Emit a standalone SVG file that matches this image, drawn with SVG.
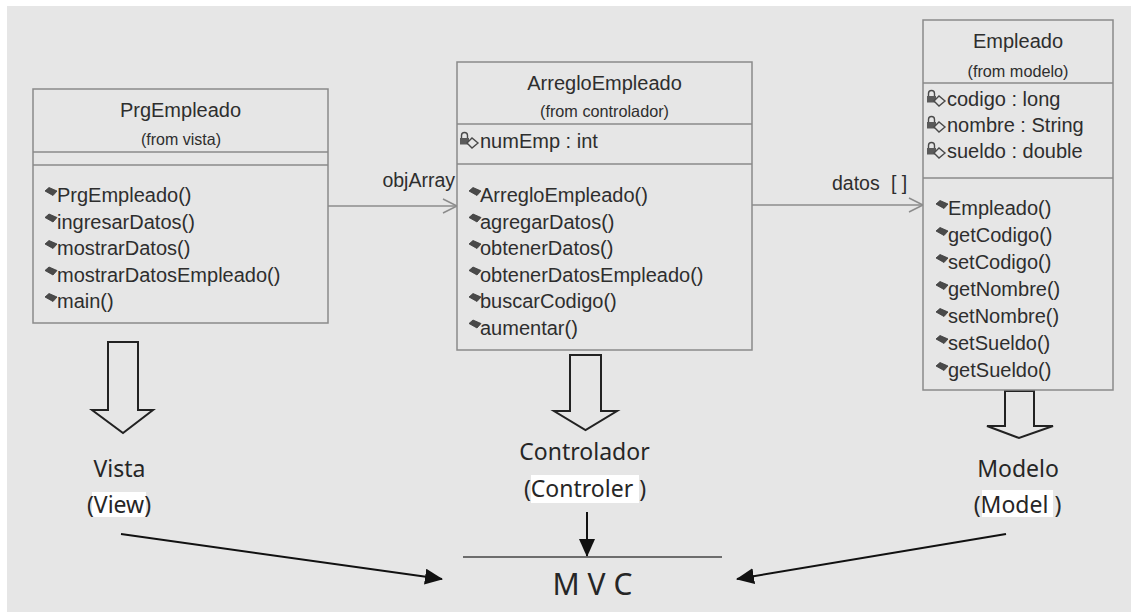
<svg xmlns="http://www.w3.org/2000/svg" width="1131" height="612" viewBox="0 0 1131 612">
  <style>
    .box { fill: #e6e6e6; stroke: #8a8a8a; stroke-width: 1.5; }
    .div { stroke: #8a8a8a; stroke-width: 1.5; }
    .name { font-family: "Liberation Sans", Arial, sans-serif; font-size: 20px; fill: #2e2e2e; text-anchor: middle; }
    .from { font-family: "Liberation Sans", Arial, sans-serif; font-size: 16.5px; fill: #2e2e2e; text-anchor: middle; }
    .mem { font-family: "Liberation Sans", Arial, sans-serif; font-size: 20px; fill: #2e2e2e; }
    .assoc { fill: none; stroke: #8c8c8c; stroke-width: 1.5; }
    .lbl { font-family: "Liberation Sans", Arial, sans-serif; font-size: 19.5px; fill: #2e2e2e; }
    .block { fill: none; stroke: #222; stroke-width: 2; stroke-linejoin: miter; }
    .layer { font-family: "Noto Sans", "Open Sans", sans-serif; font-size: 23px; fill: #262626; text-anchor: middle; }
    .hl { fill: #ffffff; }
    .flow { stroke: #111; stroke-width: 2; fill: none; }
  </style>
  <defs>
    <!-- operation marker: small dark tilted diamond -->
    <polygon id="op" points="0,3 4,-0.5 12,3 8,7.5" fill="#4a4a4a" stroke="#3a3a3a" stroke-width="0.8"/>
    <!-- private attribute marker: padlock with a diamond -->
    <g id="attr">
      <path d="M1.5,-10 v-2.5 a3,3 0 0 1 6,0 v2.5" fill="none" stroke="#4a4a4a" stroke-width="1.4"/>
      <rect x="0" y="-10" width="9" height="6.5" fill="#5a5a5a"/>
      <polygon points="7,-5 12,-10 18,-5 12,0" fill="#e6e6e6" stroke="#4a4a4a" stroke-width="1.4"/>
    </g>
    <marker id="head" markerUnits="userSpaceOnUse" markerWidth="18" markerHeight="16" viewBox="0 0 18 16" refX="17" refY="8" orient="auto">
      <path d="M0,0 L18,8 L0,16 z" fill="#111"/>
    </marker>
  </defs>

  <!-- page -->
  <rect x="0" y="0" width="1131" height="612" fill="#ffffff"/>
  <rect x="7" y="6" width="1124" height="606" fill="#e6e6e6"/>

  <!-- connectors -->
  <g id="connectors">
    <line class="assoc" x1="328" y1="206" x2="457" y2="206"/>
    <polyline class="assoc" points="443,199 457,206 443,213"/>
    <text class="lbl" x="455" y="187" text-anchor="end">objArray</text>

    <line class="assoc" x1="752" y1="205" x2="923" y2="205"/>
    <polyline class="assoc" points="909,198 923,205 909,212"/>
    <text class="lbl" x="832" y="190">datos<tspan x="891">[ ]</tspan></text>

    <path class="block" d="M108,342 H138 V410 H153 L123,433 L92,410 H108 Z"/>
    <path class="block" d="M570,355 H601 V411 H617 L585.5,430 L554,411 H570 Z"/>
    <path class="block" d="M1005,391 H1034 V426 H1053 L1019,438 L987,426 H1005 Z"/>

    <line class="flow" x1="121" y1="534" x2="442" y2="579" marker-end="url(#head)"/>
    <line class="flow" x1="1006" y1="534" x2="737" y2="579" marker-end="url(#head)"/>
    <line class="flow" x1="587" y1="512" x2="587" y2="556" marker-end="url(#head)"/>
  </g>

  <!-- class PrgEmpleado -->
  <g id="PrgEmpleado">
    <rect class="box" x="33" y="89" width="295" height="234"/>
    <text class="name" x="180.5" y="117">PrgEmpleado</text>
    <text class="from" x="181" y="145" textLength="80" lengthAdjust="spacingAndGlyphs">(from vista)</text>
    <line class="div" x1="33" y1="152" x2="328" y2="152"/>
    <line class="div" x1="33" y1="165" x2="328" y2="165"/>
    <use href="#op" x="45" y="188"/><text class="mem" x="57" y="202">PrgEmpleado()</text>
    <use href="#op" x="45" y="214.5"/><text class="mem" x="57" y="228.5">ingresarDatos()</text>
    <use href="#op" x="45" y="241"/><text class="mem" x="57" y="255">mostrarDatos()</text>
    <use href="#op" x="45" y="267.5"/><text class="mem" x="57" y="281.5">mostrarDatosEmpleado()</text>
    <use href="#op" x="45" y="294"/><text class="mem" x="57" y="308">main()</text>
  </g>

  <!-- class ArregloEmpleado -->
  <g id="ArregloEmpleado">
    <rect class="box" x="457" y="62" width="295" height="288"/>
    <text class="name" x="604.5" y="90">ArregloEmpleado</text>
    <text class="from" x="604.5" y="117" textLength="129" lengthAdjust="spacingAndGlyphs">(from controlador)</text>
    <line class="div" x1="457" y1="124" x2="752" y2="124"/>
    <use href="#attr" x="460" y="148"/><text class="mem" x="480" y="148">numEmp : int</text>
    <line class="div" x1="457" y1="164" x2="752" y2="164"/>
    <use href="#op" x="469" y="188"/><text class="mem" x="480" y="202">ArregloEmpleado()</text>
    <use href="#op" x="469" y="214.5"/><text class="mem" x="480" y="228.5">agregarDatos()</text>
    <use href="#op" x="469" y="241"/><text class="mem" x="480" y="255">obtenerDatos()</text>
    <use href="#op" x="469" y="267.5"/><text class="mem" x="480" y="281.5">obtenerDatosEmpleado()</text>
    <use href="#op" x="469" y="294"/><text class="mem" x="480" y="308">buscarCodigo()</text>
    <use href="#op" x="469" y="320.5"/><text class="mem" x="480" y="334.5">aumentar()</text>
  </g>

  <!-- class Empleado -->
  <g id="Empleado">
    <rect class="box" x="923" y="20" width="190" height="370"/>
    <text class="name" x="1018" y="48">Empleado</text>
    <text class="from" x="1018" y="77" textLength="101" lengthAdjust="spacingAndGlyphs">(from modelo)</text>
    <line class="div" x1="923" y1="83" x2="1113" y2="83"/>
    <use href="#attr" x="927" y="106"/><text class="mem" x="947" y="106">codigo : long</text>
    <use href="#attr" x="927" y="132"/><text class="mem" x="947" y="132">nombre : String</text>
    <use href="#attr" x="927" y="158"/><text class="mem" x="947" y="158">sueldo : double</text>
    <line class="div" x1="923" y1="178" x2="1113" y2="178"/>
    <use href="#op" x="936" y="201"/><text class="mem" x="948" y="215">Empleado()</text>
    <use href="#op" x="936" y="228"/><text class="mem" x="948" y="242">getCodigo()</text>
    <use href="#op" x="936" y="255"/><text class="mem" x="948" y="269">setCodigo()</text>
    <use href="#op" x="936" y="282"/><text class="mem" x="948" y="296">getNombre()</text>
    <use href="#op" x="936" y="309"/><text class="mem" x="948" y="323">setNombre()</text>
    <use href="#op" x="936" y="336"/><text class="mem" x="948" y="350">setSueldo()</text>
    <use href="#op" x="936" y="363"/><text class="mem" x="948" y="377">getSueldo()</text>
  </g>

  <!-- layer captions -->
  <g id="vista">
    <text class="layer" x="119.5" y="477">Vista</text>
    <rect class="hl" x="92" y="492" width="54" height="25"/>
    <text class="layer" x="119" y="513">(View)</text>
  </g>
  <g id="controlador">
    <text class="layer" x="584.5" y="460">Controlador</text>
    <rect class="hl" x="531" y="475" width="108" height="28"/>
    <text class="layer" x="585" y="497">(Controler )</text>
  </g>
  <g id="modelo">
    <text class="layer" x="1018" y="477">Modelo</text>
    <rect class="hl" x="982" y="490" width="71" height="27"/>
    <text class="layer" x="1017.5" y="513">(Model )</text>
  </g>
  <g id="mvc">
    <line x1="463" y1="557" x2="722" y2="557" stroke="#444" stroke-width="1.5"/>
    <text class="layer" x="592.5" y="595" style="font-size:30px">M V C</text>
  </g>
</svg>
